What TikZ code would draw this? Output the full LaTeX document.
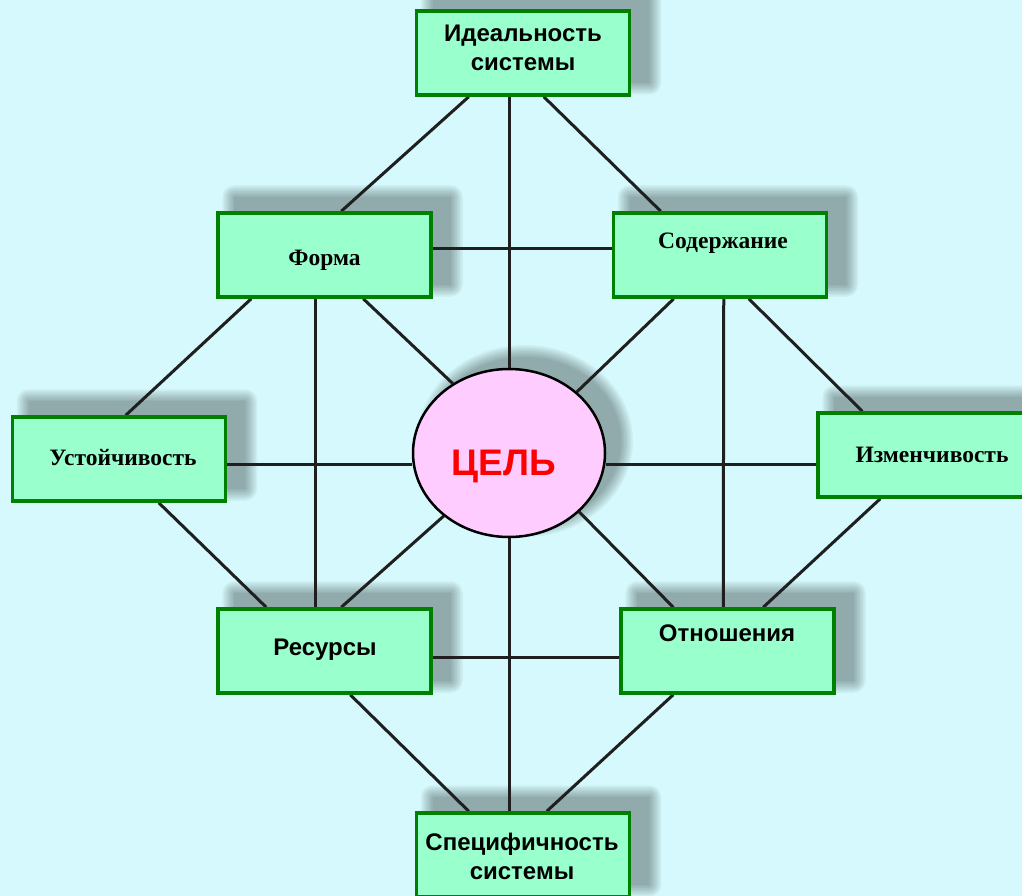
\documentclass[tikz,border=0pt]{standalone}
\usepackage{fontspec}
\setmainfont{Liberation Serif}
\newfontfamily\sansf{Liberation Sans}
\usetikzlibrary{calc,shapes.geometric}
\definecolor{bgc}{RGB}{213,249,252}
\definecolor{boxfill}{RGB}{153,255,204}
\definecolor{boxline}{RGB}{0,128,0}
\definecolor{goalfill}{RGB}{255,204,255}
\definecolor{goaltext}{RGB}{255,0,0}
\pgfdeclarelayer{shadowl}
\pgfdeclarelayer{linel}
\pgfsetlayers{shadowl,linel,main}
\newcommand\boxshadow[1]{%
  \foreach \r in {12,10.5,...,0}{%
    \fill[black,opacity=0.04,rounded corners=\r pt]
      ($(#1.north west)+(18-\r,-14-\r)$) rectangle ($(#1.south east)+(18+\r,-14+\r)$);}}
\begin{document}
\begin{tikzpicture}[x=1pt,y=-1pt,
  box/.style={draw=boxline, fill=boxfill, line width=3.5pt, rectangle,
    minimum width=213pt, minimum height=84pt, inner sep=0pt},
  conn/.style={line width=3pt, draw=black!88},
  lbls/.style={font=\sansf\bfseries\fontsize{24}{29}\selectfont, align=center, text=black, inner sep=0pt},
  lblr/.style={font=\bfseries\fontsize{23.5}{26}\selectfont, text=black, inner sep=0pt},
  ]
\useasboundingbox (0,0) rectangle (1022,896);
\clip (0,0) rectangle (1022,896);
\begin{pgfonlayer}{shadowl}
  \fill[bgc] (0,0) rectangle (1022,896);
\end{pgfonlayer}

% boxes
\node[box] (ideal) at (523,53) {};
\node[box] (forma) at (324.5,255) {};
\node[box] (sod) at (720,255) {};
\node[box] (ust) at (119,459) {};
\node[box, minimum width=220pt] (izm) at (928,455) {};
\node[box] (res) at (324.5,651) {};
\node[box] (otn) at (727.5,651) {};
\node[box] (spec) at (523,855) {};
\node[ellipse, draw=black, line width=2.5pt, fill=goalfill, minimum width=192pt,
  minimum height=168pt, inner sep=0pt] (goal) at (509,453) {};

% labels
\node[lbls] (idealT) at (523,48) {Идеальность\\системы};
\node[lblr] (formaT) at (324.5,260) {Форма};
\node[lblr] (sodT) at (723,243) {Содержание};
\node[lblr] (ustT) at (123,458) {Устойчивость};
\node[lblr] (izmT) at (932,455) {Изменчивость};
\node[lbls] (resT) at (325,650) {Ресурсы};
\node[lbls] (otnT) at (727,633) {Отношения};
\node[lbls] (specT) at (522,856) {Специфичность\\системы};
\node[font=\sansf\bfseries\fontsize{37}{40}\selectfont, text=goaltext, inner sep=0pt] (goalT) at (504,466) {ЦЕЛЬ};

% shadows
\begin{pgfonlayer}{shadowl}
  \boxshadow{ideal}
  \boxshadow{forma}
  \boxshadow{sod}
  \boxshadow{ust}
  \boxshadow{izm}
  \boxshadow{res}
  \boxshadow{otn}
  \boxshadow{spec}
  \foreach \r in {12,10.5,...,0}{%
    \fill[black,opacity=0.04] ($(goal.center)+(16,-12)$) ellipse [x radius=96+\r, y radius=84+\r];}
\end{pgfonlayer}

% connectors
\coordinate (ustE) at ($(ust.east)+(0,5)$);
\coordinate (izmW) at ($(izm.west)+(0,9)$);
\begin{pgfonlayer}{linel}
  \draw[conn] ($(ideal.south west)+(54,0)$) -- ($(forma.north west)+(125,0)$);
  \draw[conn] ($(ideal.south west)+(129,0)$) -- ($(sod.north west)+(49,0)$);
  \draw[conn] (ideal.south -| goal.north) -- (goal.north);
  \draw[conn] ($(forma.east)+(0,-7)$) -- ($(sod.west)+(0,-7)$);
  \draw[conn] ($(forma.south west)+(147,0)$) -- (goal.129);
  \draw[conn] ($(sod.south west)+(62,0)$) -- (goal.42);
  \draw[conn] ($(forma.south west)+(35,0)$) -- ($(ust.north west)+(115,0)$);
  \draw[conn] ($(forma.south west)+(99,0)$) -- ($(res.north west)+(99,0)$);
  \draw[conn] ($(sod.south west)+(112,0)$) -- ($(otn.north west)+(104,0)$);
  \draw[conn] ($(sod.south west)+(137,0)$) -- ($(izm.north west)+(46,0)$);
  \draw[conn] (ustE) -- (ustE -| goal.west);
  \draw[conn] (izmW -| goal.east) -- (izmW);
  \draw[conn] ($(ust.south west)+(148,0)$) -- ($(res.north west)+(50,0)$);
  \draw[conn] ($(izm.south west)+(64,0)$) -- ($(otn.north west)+(144,0)$);
  \draw[conn] (goal.224) -- ($(res.north west)+(125,0)$);
  \draw[conn] (goal.320) -- ($(otn.north west)+(54,0)$);
  \draw[conn] ($(res.east)+(0,6)$) -- ($(otn.west)+(0,6)$);
  \draw[conn] (goal.south) -- (spec.north -| goal.south);
  \draw[conn] ($(res.south west)+(134,0)$) -- ($(spec.north west)+(54,0)$);
  \draw[conn] ($(otn.south west)+(54,0)$) -- ($(spec.north west)+(132,0)$);
\end{pgfonlayer}
\end{tikzpicture}
\end{document}
